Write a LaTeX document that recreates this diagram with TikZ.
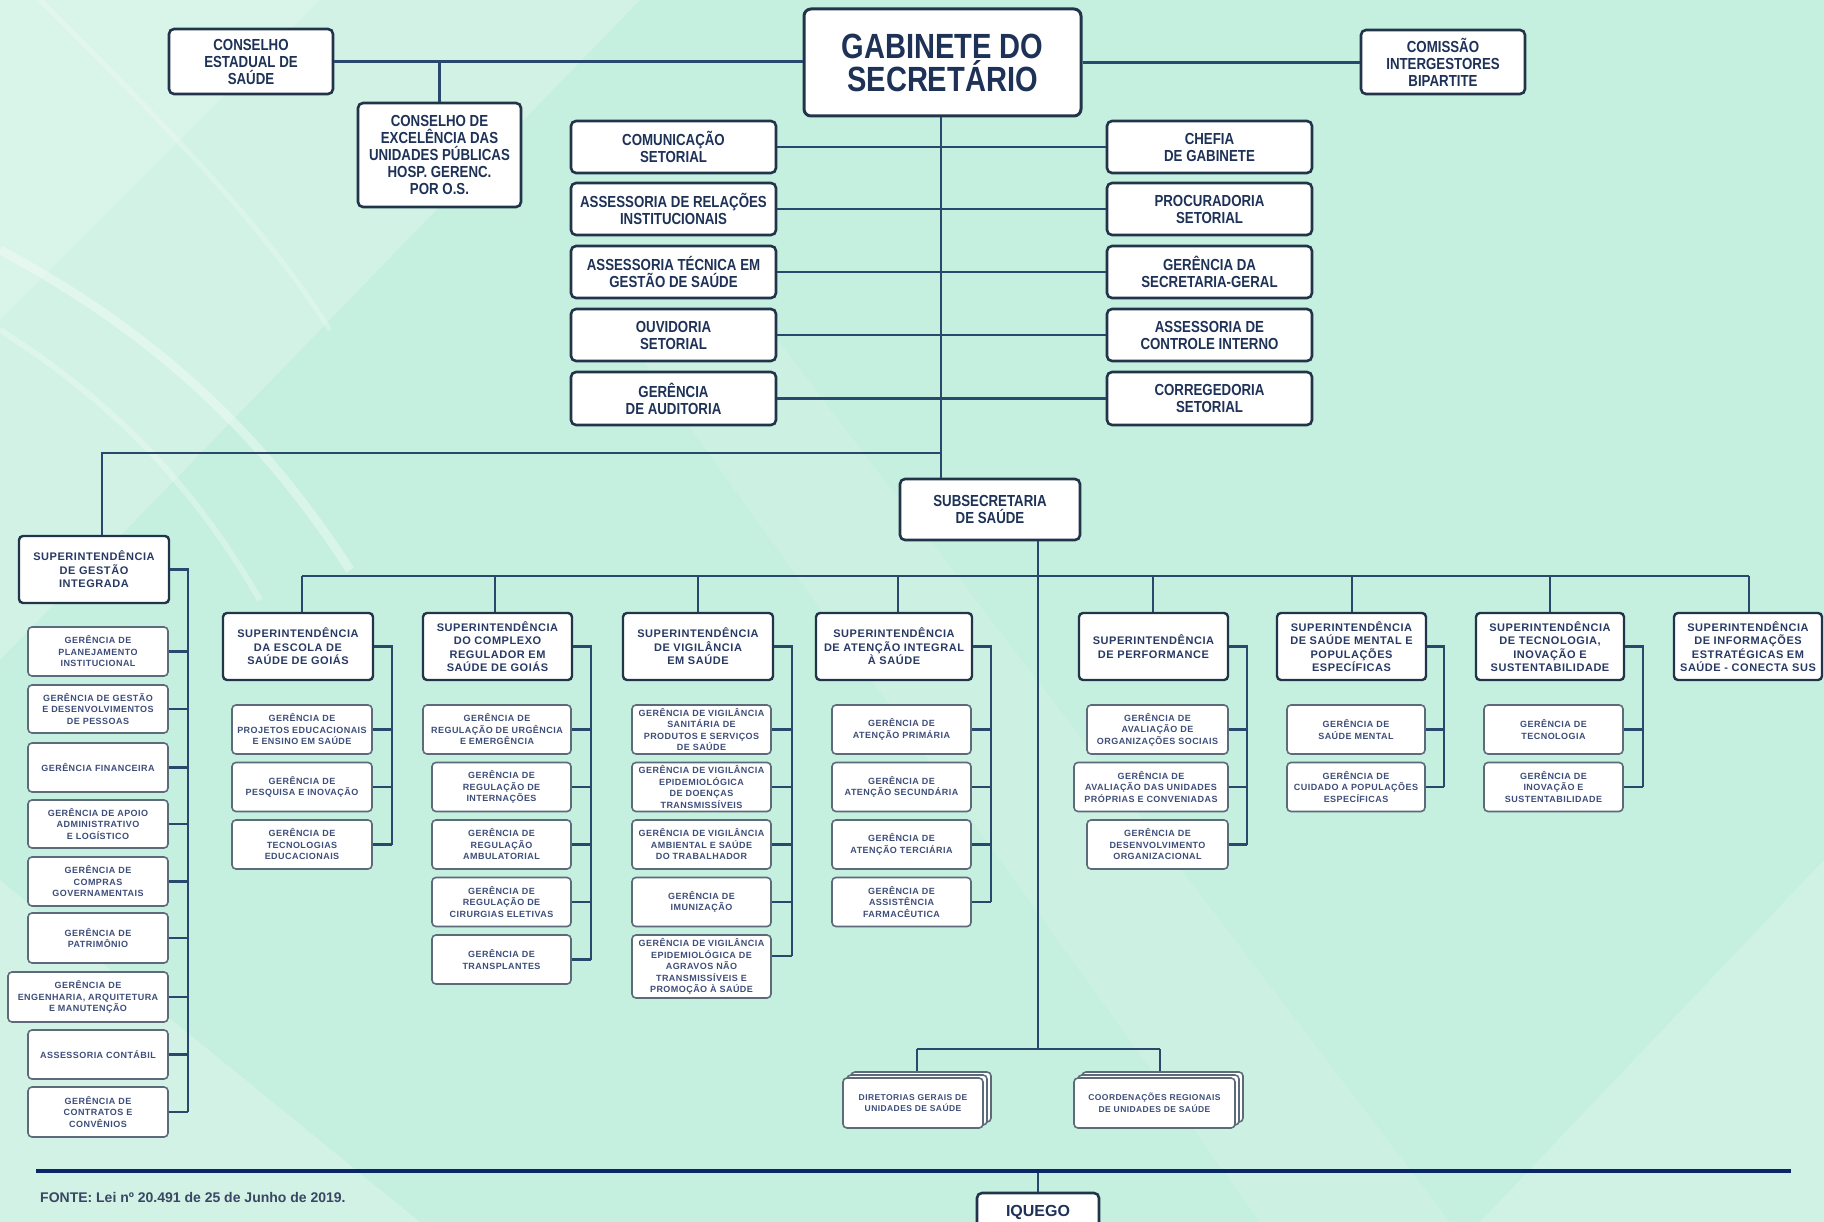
\documentclass[tikz,border=0pt]{standalone}
\usepackage{fontspec}
\setmainfont{Liberation Sans}
\newfontfamily\narrowfont[FakeStretch=0.83]{Liberation Sans}
\newfontfamily\spacedfont[LetterSpace=5]{Liberation Sans}
\usetikzlibrary{calc}
\definecolor{bgbase}{RGB}{197,239,222}
\definecolor{borderdark}{RGB}{34,52,74}
\definecolor{bordergray}{RGB}{92,106,122}
\definecolor{topnavy}{RGB}{30,50,88}
\definecolor{supnavy}{RGB}{40,58,100}
\definecolor{gertext}{RGB}{62,78,122}
\definecolor{linecol}{RGB}{40,72,108}
\definecolor{footcol}{RGB}{10,38,104}
\definecolor{fontecol}{RGB}{58,70,100}
\newcommand\obox[7]{%
  \pgfmathsetmacro\oxc{(#3+#5)/2}\pgfmathsetmacro\oyc{(#4+#6)/2}%
  \pgfmathsetmacro\ow{#5-#3}\pgfmathsetmacro\oh{#6-#4}%
  \node[#1,minimum width=\ow pt,minimum height=\oh pt] (#2) at (\oxc,\oyc) {#7};}
\tikzset{
  topbox/.style={draw=borderdark, line width=2.6pt, rounded corners=5pt, fill=white, text=topnavy, align=center, inner sep=0pt, font=\narrowfont\bfseries\fontsize{16}{17}\selectfont},
  gabbox/.style={topbox, line width=3pt, rounded corners=7pt, font=\narrowfont\bfseries\fontsize{35}{33}\selectfont},
  supbox/.style={draw=borderdark, line width=2.4pt, rounded corners=4pt, fill=white, text=supnavy, align=center, inner sep=0pt, font=\spacedfont\bfseries\fontsize{11}{13.5}\selectfont},
  gerbox/.style={draw=bordergray, line width=1.6pt, rounded corners=4pt, fill=white, text=gertext, align=center, inner sep=0pt, font=\spacedfont\bfseries\fontsize{9}{11.5}\selectfont},
  stackbox/.style={gerbox, font=\spacedfont\bfseries\fontsize{8.5}{11.5}\selectfont},
  iqbox/.style={topbox, font=\bfseries\fontsize{16}{18}\selectfont},
  link/.style={draw=linecol, line width=2.2pt},
}
\begin{document}
\begin{tikzpicture}[x=1pt,y=-1pt]
\useasboundingbox (0,0) rectangle (1824,1222);
% background
\fill[bgbase] (0,0) rectangle (1824,1222);
\fill[white,opacity=.22] (0,0) -- (640,0) -- (0,660) -- cycle;
\fill[white,opacity=.18] (0,0) -- (320,0) -- (0,320) -- cycle;
\fill[white,opacity=.22] (0,880) -- (420,1222) -- (0,1222) -- cycle;
\fill[white,opacity=.12] (620,330) -- (770,330) -- (1450,1222) -- (1260,1222) -- cycle;
\fill[white,opacity=.2] (1480,1222) -- (1824,860) -- (1824,1222) -- cycle;
\draw[white,opacity=.35,line width=9pt] (0,250) .. controls (150,330) and (260,430) .. (350,570);
\draw[white,opacity=.28,line width=6pt] (0,330) .. controls (110,400) and (190,480) .. (260,600);
\draw[white,opacity=.25,line width=5pt] (40,0) .. controls (160,120) and (260,220) .. (330,330);

% ===== top level =====
\obox{gabbox}{gab}{804}{9}{1081}{116}{GABINETE DO\\SECRETÁRIO}
\obox{topbox}{ces}{169}{29}{333}{94}{CONSELHO\\ESTADUAL DE\\SAÚDE}
\obox{topbox}{cib}{1361}{30}{1525}{94}{COMISSÃO\\INTERGESTORES\\BIPARTITE}
\obox{topbox}{cex}{358}{103}{521}{207}{CONSELHO DE\\EXCELÊNCIA DAS\\UNIDADES PÚBLICAS\\HOSP. GERENC.\\POR O.S.}

\obox{topbox}{L1}{571}{121}{776}{173}{COMUNICAÇÃO\\SETORIAL}
\obox{topbox}{L2}{571}{183}{776}{235}{ASSESSORIA DE RELAÇÕES\\INSTITUCIONAIS}
\obox{topbox}{L3}{571}{246}{776}{298}{ASSESSORIA TÉCNICA EM\\GESTÃO DE SAÚDE}
\obox{topbox}{L4}{571}{309}{776}{361}{OUVIDORIA\\SETORIAL}
\obox{topbox}{L5}{571}{372}{776}{425}{GERÊNCIA\\DE AUDITORIA}

\obox{topbox}{R1}{1107}{121}{1312}{173}{CHEFIA\\DE GABINETE}
\obox{topbox}{R2}{1107}{183}{1312}{235}{PROCURADORIA\\SETORIAL}
\obox{topbox}{R3}{1107}{246}{1312}{298}{GERÊNCIA DA\\SECRETARIA-GERAL}
\obox{topbox}{R4}{1107}{309}{1312}{361}{ASSESSORIA DE\\CONTROLE INTERNO}
\obox{topbox}{R5}{1107}{372}{1312}{425}{CORREGEDORIA\\SETORIAL}

\obox{topbox}{sub}{900}{479}{1080}{540}{SUBSECRETARIA\\DE SAÚDE}

% top connectors
\coordinate (sp) at (941,0);
\draw[link] (ces.east) -- (ces.east -| gab.west);
\draw[link] (gab.east) -- (gab.east -| cib.west);
\draw[link] (cex.north) -- (cex.north |- ces.east);
\draw[link] (sp |- gab.south) -- (sp |- sub.north);
\foreach \n in {L1,L2,L3,L4,L5} \draw[link] (\n.east) -- (\n.east -| sp);
\foreach \n in {R1,R2,R3,R4,R5} \draw[link] (\n.west) -- (\n.west -| sp);

% ===== superintendencias =====
\obox{supbox}{sgi}{19}{536}{169}{603}{SUPERINTENDÊNCIA\\DE GESTÃO\\INTEGRADA}
\obox{supbox}{s1}{223}{613}{373}{680}{SUPERINTENDÊNCIA\\DA ESCOLA DE\\SAÚDE DE GOIÁS}
\obox{supbox}{s2}{423}{613}{572}{680}{SUPERINTENDÊNCIA\\DO COMPLEXO\\REGULADOR EM\\SAÚDE DE GOIÁS}
\obox{supbox}{s3}{623}{613}{773}{680}{SUPERINTENDÊNCIA\\DE VIGILÂNCIA\\EM SAÚDE}
\obox{supbox}{s4}{816}{613}{972}{680}{SUPERINTENDÊNCIA\\DE ATENÇÃO INTEGRAL\\À SAÚDE}
\obox{supbox}{s5}{1079}{613}{1228}{680}{SUPERINTENDÊNCIA\\DE PERFORMANCE}
\obox{supbox}{s6}{1277}{613}{1426}{680}{SUPERINTENDÊNCIA\\DE SAÚDE MENTAL E\\POPULAÇÕES\\ESPECÍFICAS}
\obox{supbox}{s7}{1476}{613}{1624}{680}{SUPERINTENDÊNCIA\\DE TECNOLOGIA,\\INOVAÇÃO E\\SUSTENTABILIDADE}
\obox{supbox}{s8}{1674}{613}{1822}{680}{SUPERINTENDÊNCIA\\DE INFORMAÇÕES\\ESTRATÉGICAS EM\\SAÚDE - CONECTA SUS}

% connectors from subsecretaria
\coordinate (j1) at (941,453);
\coordinate (j2) at (102,453);
\draw[link] (j1) -- (j2) -- (j2 |- sgi.north);
\coordinate (sp2) at (1038,0);
\coordinate (br) at (1038,1049);
\draw[link] (sp2 |- sub.south) -- (br);
\coordinate (d1) at (302,576);
\coordinate (d2) at (495,576);
\coordinate (d3) at (698,576);
\coordinate (d4) at (898,576);
\coordinate (d5) at (1153,576);
\coordinate (d6) at (1352,576);
\coordinate (d7) at (1550,576);
\coordinate (d8) at (1749,576);
\draw[link] (d1) -- (d8);
\foreach \k in {1,...,8} \draw[link] (d\k) -- (d\k |- s\k.north);

% ===== gerencias: gestao integrada =====
\obox{gerbox}{g1}{28}{627}{168}{676}{GERÊNCIA DE\\PLANEJAMENTO\\INSTITUCIONAL}
\obox{gerbox}{g2}{28}{685}{168}{733}{GERÊNCIA DE GESTÃO\\E DESENVOLVIMENTOS\\DE PESSOAS}
\obox{gerbox}{g3}{28}{743}{168}{792}{GERÊNCIA FINANCEIRA}
\obox{gerbox}{g4}{28}{800}{168}{848}{GERÊNCIA DE APOIO\\ADMINISTRATIVO\\E LOGÍSTICO}
\obox{gerbox}{g5}{28}{857}{168}{906}{GERÊNCIA DE\\COMPRAS\\GOVERNAMENTAIS}
\obox{gerbox}{g6}{28}{913}{168}{963}{GERÊNCIA DE\\PATRIMÔNIO}
\obox{gerbox}{g7}{8}{972}{168}{1022}{GERÊNCIA DE\\ENGENHARIA, ARQUITETURA\\E MANUTENÇÃO}
\obox{gerbox}{g8}{28}{1030}{168}{1079}{ASSESSORIA CONTÁBIL}
\obox{gerbox}{g9}{28}{1087}{168}{1137}{GERÊNCIA DE\\CONTRATOS E\\CONVÊNIOS}
\coordinate (bg) at (188,0);
\draw[link] (sgi.east) -- (sgi.east -| bg) -- (bg |- g9.east);
\foreach \n in {g1,g2,g3,g4,g5,g6,g7,g8,g9} \draw[link] (\n.east) -- (\n.east -| bg);

% escola
\obox{gerbox}{e1}{232}{705}{372}{754}{GERÊNCIA DE\\PROJETOS EDUCACIONAIS\\E ENSINO EM SAÚDE}
\obox{gerbox}{e2}{232}{762.5}{372}{811.5}{GERÊNCIA DE\\PESQUISA E INOVAÇÃO}
\obox{gerbox}{e3}{232}{820}{372}{869}{GERÊNCIA DE\\TECNOLOGIAS\\EDUCACIONAIS}
\coordinate (b1) at (392,0);
\draw[link] (s1.east) -- (s1.east -| b1) -- (b1 |- e3.east);
\foreach \n in {e1,e2,e3} \draw[link] (\n.east) -- (\n.east -| b1);

% regulador
\obox{gerbox}{r1}{423}{705}{571}{754}{GERÊNCIA DE\\REGULAÇÃO DE URGÊNCIA\\E EMERGÊNCIA}
\obox{gerbox}{r2}{432}{762.5}{571}{811.5}{GERÊNCIA DE\\REGULAÇÃO DE\\INTERNAÇÕES}
\obox{gerbox}{r3}{432}{820}{571}{869}{GERÊNCIA DE\\REGULAÇÃO\\AMBULATORIAL}
\obox{gerbox}{r4}{432}{877.5}{571}{926.5}{GERÊNCIA DE\\REGULAÇÃO DE\\CIRURGIAS ELETIVAS}
\obox{gerbox}{r5}{432}{935}{571}{984}{GERÊNCIA DE\\TRANSPLANTES}
\coordinate (b2) at (591,0);
\draw[link] (s2.east) -- (s2.east -| b2) -- (b2 |- r5.east);
\foreach \n in {r1,r2,r3,r4,r5} \draw[link] (\n.east) -- (\n.east -| b2);

% vigilancia
\obox{gerbox}{v1}{632}{705}{771}{754}{GERÊNCIA DE VIGILÂNCIA\\SANITÁRIA DE\\PRODUTOS E SERVIÇOS\\DE SAÚDE}
\obox{gerbox}{v2}{632}{762.5}{771}{811.5}{GERÊNCIA DE VIGILÂNCIA\\EPIDEMIOLÓGICA\\DE DOENÇAS\\TRANSMISSÍVEIS}
\obox{gerbox}{v3}{632}{820}{771}{869}{GERÊNCIA DE VIGILÂNCIA\\AMBIENTAL E SAÚDE\\DO TRABALHADOR}
\obox{gerbox}{v4}{632}{877.5}{771}{926.5}{GERÊNCIA DE\\IMUNIZAÇÃO}
\obox{gerbox}{v5}{632}{935}{771}{998}{GERÊNCIA DE VIGILÂNCIA\\EPIDEMIOLÓGICA DE\\AGRAVOS NÃO\\TRANSMISSÍVEIS E\\PROMOÇÃO À SAÚDE}
\coordinate (b3) at (792,0);
\coordinate (v5c) at ([yshift=-22pt]v5.north east);
\draw[link] (s3.east) -- (s3.east -| b3) -- (b3 |- v5c);
\foreach \n in {v1,v2,v3,v4} \draw[link] (\n.east) -- (\n.east -| b3);
\draw[link] (v5c) -- (v5c -| b3);

% atencao integral
\obox{gerbox}{a1}{832}{705}{971}{754}{GERÊNCIA DE\\ATENÇÃO PRIMÁRIA}
\obox{gerbox}{a2}{832}{762.5}{971}{811.5}{GERÊNCIA DE\\ATENÇÃO SECUNDÁRIA}
\obox{gerbox}{a3}{832}{820}{971}{869}{GERÊNCIA DE\\ATENÇÃO TERCIÁRIA}
\obox{gerbox}{a4}{832}{877.5}{971}{926.5}{GERÊNCIA DE\\ASSISTÊNCIA\\FARMACÊUTICA}
\coordinate (b4) at (991,0);
\draw[link] (s4.east) -- (s4.east -| b4) -- (b4 |- a4.east);
\foreach \n in {a1,a2,a3,a4} \draw[link] (\n.east) -- (\n.east -| b4);

% performance
\obox{gerbox}{p1}{1087}{705}{1228}{754}{GERÊNCIA DE\\AVALIAÇÃO DE\\ORGANIZAÇÕES SOCIAIS}
\obox{gerbox}{p2}{1074}{762.5}{1228}{811.5}{GERÊNCIA DE\\AVALIAÇÃO DAS UNIDADES\\PRÓPRIAS E CONVENIADAS}
\obox{gerbox}{p3}{1087}{820}{1228}{869}{GERÊNCIA DE\\DESENVOLVIMENTO\\ORGANIZACIONAL}
\coordinate (b5) at (1247,0);
\draw[link] (s5.east) -- (s5.east -| b5) -- (b5 |- p3.east);
\foreach \n in {p1,p2,p3} \draw[link] (\n.east) -- (\n.east -| b5);

% saude mental
\obox{gerbox}{m1}{1287}{705}{1425}{754}{GERÊNCIA DE\\SAÚDE MENTAL}
\obox{gerbox}{m2}{1287}{762.5}{1425}{811.5}{GERÊNCIA DE\\CUIDADO A POPULAÇÕES\\ESPECÍFICAS}
\coordinate (b6) at (1444,0);
\draw[link] (s6.east) -- (s6.east -| b6) -- (b6 |- m2.east);
\foreach \n in {m1,m2} \draw[link] (\n.east) -- (\n.east -| b6);

% tecnologia
\obox{gerbox}{t1}{1484}{705}{1623}{754}{GERÊNCIA DE\\TECNOLOGIA}
\obox{gerbox}{t2}{1484}{762.5}{1623}{811.5}{GERÊNCIA DE\\INOVAÇÃO E\\SUSTENTABILIDADE}
\coordinate (b7) at (1643,0);
\draw[link] (s7.east) -- (s7.east -| b7) -- (b7 |- t2.east);
\foreach \n in {t1,t2} \draw[link] (\n.east) -- (\n.east -| b7);

% ===== stacked boxes =====
\obox{stackbox}{dirB2}{851}{1072}{991}{1122}{}
\obox{stackbox}{dirB1}{847}{1075}{987}{1125}{}
\obox{stackbox}{dirC}{843}{1078}{983}{1128}{DIRETORIAS GERAIS DE\\UNIDADES DE SAÚDE}
\obox{stackbox}{coB2}{1082}{1072}{1243}{1122}{}
\obox{stackbox}{coB1}{1078}{1075}{1239}{1125}{}
\obox{stackbox}{coC}{1074}{1078}{1235}{1128}{COORDENAÇÕES REGIONAIS\\DE UNIDADES DE SAÚDE}
\coordinate (brL) at (917,1049);
\coordinate (brR) at (1160,1049);
\draw[link] (brL) -- (brR);
\draw[link] (brL) -- (brL |- dirB2.north);
\draw[link] (brR) -- (brR |- coB2.north);

% ===== footer =====
\coordinate (footL) at (36,1171);
\coordinate (footR) at (1791,1171);
\obox{iqbox}{iq}{977}{1193}{1099}{1232}{IQUEGO}
\coordinate (fl) at (1038,1171);
\draw[link] (fl) -- (fl |- iq.north);
\draw[footcol, line width=4pt] (footL) -- (footR);
\node[anchor=base west, inner sep=0pt, text=fontecol, font=\bfseries\fontsize{14}{16}\selectfont] (fonte) at (40,1202) {FONTE: Lei nº 20.491 de 25 de Junho de 2019.};
\end{tikzpicture}
\end{document}
